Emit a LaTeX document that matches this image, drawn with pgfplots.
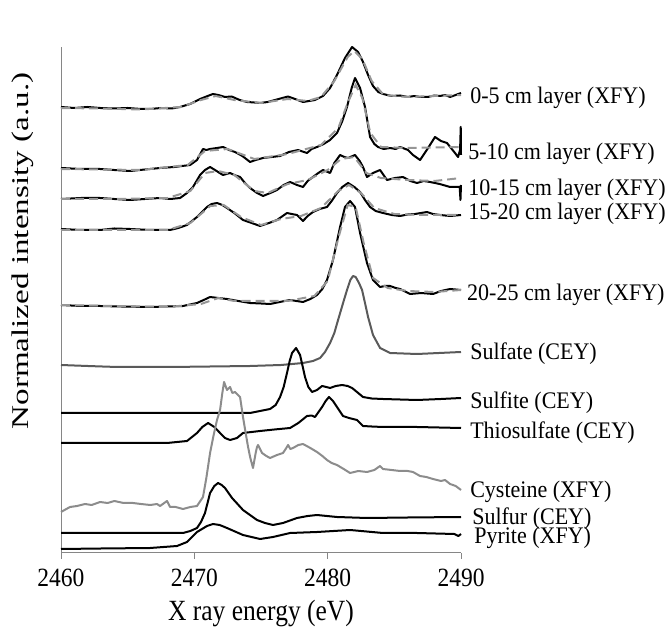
\documentclass[border=0pt]{standalone}
\usepackage{fontspec}
\setmainfont{Liberation Serif}
\usepackage{graphicx}
\usepackage{pgfplots}
\pgfplotsset{compat=1.18}
\definecolor{axisgray}{RGB}{134,134,134}
\definecolor{fitgray}{RGB}{150,150,150}
\definecolor{sulfategray}{RGB}{90,90,90}
\definecolor{cysgray}{RGB}{140,140,140}
\newcommand{\lab}[1]{\scalebox{1}[1.08]{\fontsize{22}{26}\selectfont #1}}
\newcommand{\tk}[1]{\scalebox{1}[1.12]{\fontsize{23.5}{28}\selectfont #1}}
\begin{document}
\begin{tikzpicture}
\useasboundingbox (-61pt,-75pt) rectangle (610pt,553pt);
\begin{axis}[
  at={(0pt,0pt)}, anchor=south west,
  scale only axis, width=400pt, height=506pt,
  xmin=2460, xmax=2490, ymin=0, ymax=506,
  axis x line*=bottom, axis y line*=left,
  axis line style={color=axisgray, line width=1pt},
  xtick={2460,2470,2480,2490},
  xticklabels={\tk{2460},\tk{2470},\tk{2480},\tk{2490}},
  ytick=\empty,
  tick align=outside, major tick length=6pt,
  every tick/.style={axisgray, line width=1pt},
  xticklabel style={anchor=base, yshift=-28pt},
  xlabel={\scalebox{1}[1.15]{\fontsize{25.5}{30}\selectfont X ray energy (eV)}},
  xlabel style={at={(axis description cs:0.5,-0.1186)}, anchor=center},
  clip=false,
  solid/.style={black, line width=2pt, line join=round},
  fit/.style={fitgray, line width=2pt, dash pattern=on 9pt off 5pt},
]
% 0-5 cm
\addplot[solid] coordinates {(2460,446) (2461,445) (2462,446) (2462.93,445) (2464,444.5) (2465,445) (2466,444) (2466.68,444) (2467.5,445) (2468.3,444.5) (2468.93,446) (2469.68,449) (2470.43,454) (2471,457) (2471.4,459) (2471.8,458) (2472.3,456) (2472.8,456.5) (2473.4,453) (2473.95,451) (2474.5,450.5) (2474.93,450) (2475.5,451) (2476.05,453) (2476.6,455) (2477.03,456.5) (2477.55,454) (2478.15,451) (2478.6,452) (2479.05,453) (2479.65,457) (2480.18,465) (2480.7,478) (2481.3,495) (2481.83,506) (2482.28,501) (2482.65,491) (2483.03,478) (2483.4,467) (2483.8,461) (2484.15,459) (2484.8,457) (2485.43,457.5) (2486,456) (2486.5,457) (2486.93,456) (2487.5,456) (2488,457.5) (2488.43,457) (2488.8,458) (2489.18,456) (2489.6,458) (2490,460)};
\addplot[fit] coordinates {(2460,445) (2463,444.5) (2466,443.5) (2469,446) (2470.5,453) (2471.6,457) (2473,453) (2475,450) (2477,454) (2478.5,452) (2479.5,456) (2480.5,472) (2481.5,496) (2482,502) (2482.6,494) (2483.3,472) (2484.2,458) (2486,456) (2488,457) (2490,458)};
% 5-10 cm
\addplot[solid] coordinates {(2460,385) (2461.5,384) (2462.93,384) (2464,383) (2465.18,382) (2466.3,383.5) (2467.43,385) (2468.5,386) (2469.68,388) (2470.2,393) (2470.65,404) (2470.9,403) (2471.18,404) (2471.7,405) (2472.15,406) (2472.6,403) (2473.05,401) (2473.6,397) (2474.18,391) (2474.6,393) (2475.15,395) (2475.8,396) (2476.43,397) (2477.1,401) (2477.78,403) (2478.45,400) (2478.8,404) (2479.2,406) (2479.7,409) (2480.18,413) (2480.7,420) (2481.1,432) (2481.45,446) (2481.8,465) (2482.05,475) (2482.43,465) (2482.8,446) (2483.18,416) (2483.5,409) (2483.78,406) (2484.2,404) (2484.68,405) (2485.1,404) (2485.43,406) (2486.03,403) (2486.4,398) (2486.93,393) (2487.53,405) (2488.05,416) (2488.5,412) (2488.95,410) (2489.55,400) (2489.78,396) (2489.93,403) (2489.98,426) (2490,398)};
\addplot[fit] coordinates {(2460,384) (2463,383.5) (2466,383) (2469.5,388) (2470.8,402) (2472.5,404) (2474.5,394) (2477,399) (2479.5,408) (2480.8,425) (2481.5,450) (2482.1,468) (2482.6,455) (2483.2,420) (2484,406) (2486,405) (2490,406)};
% 10-15 cm
\addplot[solid] coordinates {(2460,354) (2461.5,355) (2462.93,355) (2464,354) (2465.18,353) (2466.3,354) (2467.43,355) (2468.2,354) (2468.93,355) (2469.45,360) (2469.9,366) (2470.43,378) (2470.8,383) (2471.18,386) (2471.55,383) (2471.9,380) (2472.15,378) (2472.68,380) (2473,378) (2473.43,376) (2473.8,370) (2474.18,365) (2474.7,360) (2475.15,357) (2475.7,360) (2476.2,363) (2476.7,368) (2477.18,371) (2477.7,368) (2478.15,366) (2478.5,372) (2478.9,376) (2479.3,380) (2479.65,383) (2480.18,380) (2480.5,390) (2480.93,398) (2481.25,396) (2481.53,395) (2482.05,398) (2482.4,392) (2482.65,386) (2482.95,376) (2483.4,380) (2483.93,383) (2484.45,373) (2485.05,375) (2485.65,376) (2486.2,372) (2486.7,370) (2487.2,372) (2487.68,371) (2488.4,369) (2489.18,366) (2489.9,366) (2489.96,353) (2490,368)};
\addplot[fit] coordinates {(2460,354) (2464,354) (2468,355) (2469.7,362) (2470.8,380) (2471.8,382) (2473,378) (2474.5,362) (2475.5,360) (2477,369) (2478.5,373) (2480,383) (2481,394) (2482,396) (2482.9,380) (2484,375) (2486,373) (2488,372) (2490,375)};
% 15-20 cm
\addplot[solid] coordinates {(2460,324) (2461.5,323) (2462.93,323) (2464,324.5) (2465.18,324) (2466.7,323) (2468.18,323) (2468.8,325) (2469.45,328) (2470.2,336) (2470.95,346) (2471.3,349) (2471.7,350) (2472.1,348) (2472.45,345) (2473,340) (2473.65,333) (2474.3,330) (2474.93,327) (2475.6,330) (2476.2,333) (2476.95,340) (2477.3,339) (2477.7,338) (2478.15,332) (2478.5,337) (2478.9,341) (2479.4,344) (2479.95,346) (2480.3,352) (2480.7,360) (2481.1,366) (2481.53,370) (2482,366) (2482.43,361) (2482.8,353) (2483.18,346) (2483.6,342) (2484.15,340) (2484.8,338) (2485.43,337) (2486,338.5) (2486.55,339) (2487,340) (2487.45,341) (2487.9,339) (2488.43,338) (2489.2,337) (2490,338)};
\addplot[fit] coordinates {(2460,323) (2464,323) (2468,323) (2469.7,330) (2471.2,347) (2472.2,348) (2473.5,336) (2475,328) (2476.5,334) (2478,337) (2479.5,345) (2480.8,362) (2481.6,368) (2482.5,360) (2483.5,345) (2485,339) (2487,338) (2490,338)};
% 20-25 cm
\addplot[solid] coordinates {(2460,248) (2461.5,247) (2462.93,247) (2464.5,246.5) (2466.68,246) (2468,246.5) (2469.15,247) (2470.2,250) (2470.7,253) (2471.18,256) (2471.8,255) (2472.45,254) (2473.3,252) (2474.18,250) (2475,249.5) (2475.68,249) (2476.4,251) (2477.18,253) (2478.15,251) (2478.7,254) (2479.2,258) (2479.6,264) (2479.95,273) (2480.4,293) (2480.93,326) (2481.3,346) (2481.68,352) (2482.05,346) (2482.43,320) (2482.95,290) (2483.4,273) (2483.93,266) (2484.3,267) (2484.68,267) (2485.1,265) (2485.43,264) (2486.18,259) (2487,260) (2487.9,259) (2488.5,262) (2489.18,264) (2490,263)};
\addplot[fit] coordinates {(2460,248) (2464,247) (2468,246) (2470.5,249) (2471.8,255) (2473,252) (2477,252) (2479,257) (2480,272) (2480.8,315) (2481.5,348) (2482.1,346) (2482.7,310) (2483.4,275) (2484.5,265) (2486,262) (2488,261) (2490,263)};
% Sulfate
\addplot[sulfategray, line width=2pt, line join=round] coordinates {(2460,188) (2462,187) (2464.2,186) (2468.18,186) (2474.18,187) (2476.5,188) (2478.15,190) (2478.9,192) (2479.43,195) (2479.8,201) (2480.18,210) (2480.5,220) (2480.78,233) (2481.2,252) (2481.45,263) (2481.7,273) (2481.9,277) (2482.1,276) (2482.35,270) (2482.58,263) (2482.8,250) (2483.03,236) (2483.4,218) (2483.93,205) (2484.68,200) (2486.7,199) (2490,201)};
% Sulfite
\addplot[solid] coordinates {(2460,140) (2467,140) (2474.18,140) (2475.68,144) (2476.1,148) (2476.43,156) (2476.7,166) (2476.95,180) (2477.15,192) (2477.33,200) (2477.63,205) (2477.93,198) (2478.1,188) (2478.3,176) (2478.55,166) (2478.83,161) (2479.2,163) (2479.58,167) (2479.9,166) (2480.18,165) (2480.6,167) (2481.08,168) (2481.5,167) (2481.83,165) (2482.2,161) (2482.65,156) (2483.3,154.5) (2484.15,154) (2486.7,153) (2488.5,154) (2490,155)};
% Thiosulfate
\addplot[solid] coordinates {(2460,110) (2464,110) (2467.95,110) (2469.45,112) (2470.2,120) (2470.6,126) (2471.03,130) (2471.5,126) (2471.93,120) (2472.3,115) (2472.68,113) (2473.2,115) (2473.65,120) (2474.93,122) (2476,123.5) (2477.18,125) (2477.8,130) (2478.45,137) (2478.8,137.5) (2479.05,136) (2479.58,146) (2479.85,152) (2480.1,156) (2480.4,152) (2480.7,146) (2481.15,137) (2481.6,135) (2482.2,133) (2482.65,127) (2483.3,126.5) (2484.15,126) (2486.7,126) (2490,125)};
% Cysteine
\addplot[cysgray, line width=2pt, line join=round] coordinates {(2460,41) (2460.4,44) (2460.68,46) (2461.2,47) (2461.8,49) (2462.3,48) (2462.93,51) (2463.5,50) (2464,52) (2464.7,50) (2465.4,50) (2466,49) (2466.7,48) (2467.2,49) (2467.43,47) (2467.95,52) (2468.18,46) (2468.6,46) (2469.15,44) (2469.7,46) (2470.2,47) (2470.65,56) (2470.9,75) (2471.18,100) (2471.45,118) (2471.7,133) (2471.93,143) (2472.1,160) (2472.23,171) (2472.45,163) (2472.68,166) (2472.85,160) (2473.05,161) (2473.43,156) (2473.65,136) (2473.85,120) (2474.03,106) (2474.2,95) (2474.4,85) (2474.6,100) (2474.7,106) (2474.78,108) (2475.08,100) (2475.4,97) (2475.68,95) (2476.2,98) (2476.65,100) (2476.85,104) (2477.03,108) (2477.2,104) (2477.4,105) (2477.8,108) (2478.15,109) (2478.7,105) (2479.2,101) (2479.6,97) (2479.95,93) (2480.3,90) (2480.7,88) (2481.2,84) (2481.68,80) (2482.3,82) (2482.95,81) (2483.5,83) (2483.93,87) (2484.15,84) (2484.8,83) (2485.43,82) (2486,82) (2486.4,81) (2486.93,77) (2487.4,76) (2487.9,74) (2488.5,72) (2488.8,73) (2489.18,69) (2489.6,67) (2490,63)};
% Sulfur
\addplot[solid] coordinates {(2460,20) (2465,20) (2469.15,20) (2469.7,22) (2470.2,25) (2470.5,31) (2470.8,40) (2471.18,60) (2471.5,67) (2471.78,70) (2472.05,68) (2472.3,65) (2472.83,55) (2473.65,43) (2474.7,33) (2475.3,30) (2475.9,28) (2476.65,30) (2477.7,35) (2478.5,37) (2479.2,38) (2480.7,36) (2482.95,35) (2486,35.5) (2490,36)};
% Pyrite
\addplot[solid] coordinates {(2460,4) (2463,4.5) (2466.68,5) (2468.7,7) (2469.45,11) (2470.2,21) (2470.95,27) (2471.4,29) (2471.9,28) (2472.45,25) (2473.65,18) (2474.93,14) (2475.9,16) (2477.18,20) (2479.2,21) (2481.68,23) (2484.15,20) (2486.7,20) (2489.5,19) (2489.8,17) (2490,19)};
% labels
\node[anchor=west, inner sep=0pt] at (axis cs:2490.68,455) {\lab{0-5 cm layer (XFY)}};
\node[anchor=west, inner sep=0pt] at (axis cs:2490.53,399) {\lab{5-10 cm layer (XFY)}};
\node[anchor=west, inner sep=0pt] at (axis cs:2490.53,363) {\lab{10-15 cm layer (XFY)}};
\node[anchor=west, inner sep=0pt] at (axis cs:2490.53,339) {\lab{15-20 cm layer (XFY)}};
\node[anchor=west, inner sep=0pt] at (axis cs:2490.45,258) {\lab{20-25 cm layer (XFY)}};
\node[anchor=west, inner sep=0pt] at (axis cs:2490.68,199.5) {\lab{Sulfate (CEY)}};
\node[anchor=west, inner sep=0pt] at (axis cs:2490.68,150.5) {\lab{Sulfite (CEY)}};
\node[anchor=west, inner sep=0pt] at (axis cs:2490.68,120.5) {\lab{Thiosulfate (CEY)}};
\node[anchor=west, inner sep=0pt] at (axis cs:2490.68,61.5) {\lab{Cysteine (XFY)}};
\node[anchor=west, inner sep=0pt] at (axis cs:2490.83,34.5) {\lab{Sulfur (CEY)}};
\node[anchor=west, inner sep=0pt] at (axis cs:2490.98,15.5) {\lab{Pyrite (XFY)}};
\node[rotate=90, anchor=center] at (axis cs:2457.1,302) {\scalebox{1.38}[1]{\fontsize{24}{28}\selectfont Normalized intensity (a.u.)}};
\end{axis}
\end{tikzpicture}
\end{document}
